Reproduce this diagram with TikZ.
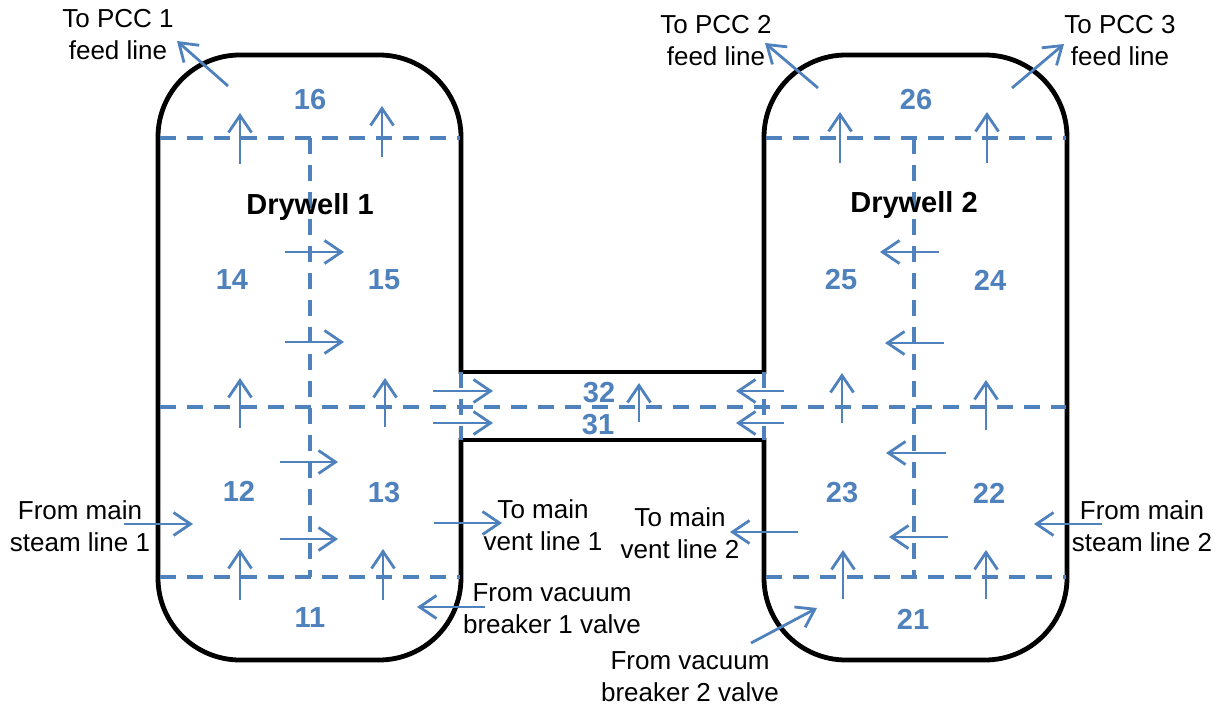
\documentclass[tikz,border=0pt]{standalone}
\usepackage{fontspec}
\setmainfont{Liberation Sans}
\usetikzlibrary{arrows.meta}
\definecolor{bl}{RGB}{79,129,189}
\begin{document}
\begin{tikzpicture}[x=0.5pt,y=-0.5pt,
 wall/.style={line width=2.4pt,black},
 dsh/.style={bl,line width=1.7pt,dash pattern=on 8pt off 5.5pt},
 flow/.style={bl,line width=1.4pt,-{Straight Barb[length=8.5pt,width=11.5pt,line width=1.4pt]}},
 num/.style={text=bl,font=\fontsize{14.5}{16}\selectfont\bfseries,inner sep=0pt},
 lbl/.style={align=center,font=\fontsize{13}{16}\selectfont,inner sep=0pt},
 ttl/.style={font=\fontsize{14.5}{16}\selectfont\bfseries,inner sep=0pt}]
\useasboundingbox (0,0) rectangle (1220,706);
% walls
\draw[wall,rounded corners=41pt] (158,55) rectangle (461,660);
\draw[wall,rounded corners=41pt] (764,55) rectangle (1067,660);
\fill[white] (455,374) rectangle (770,438);
\draw[wall] (459,372) -- (766,372);
\draw[wall] (459,440) -- (766,440);
% dashed boundaries
\draw[dsh] (160,138) -- (460,138);
\draw[dsh] (310,138) -- (310,577);
\draw[dsh] (160,577) -- (460,577);
\draw[dsh] (160,407) -- (1066,407);
\draw[dsh] (461,372) -- (461,440);
\draw[dsh] (764,372) -- (764,440);
\draw[dsh] (766,138) -- (1066,138);
\draw[dsh] (914,138) -- (914,577);
\draw[dsh] (766,577) -- (1066,577);
% numbers
\node[num] (n16) at (310,100) {16};
\node[num] (n14) at (232,280) {14};
\node[num] (n15) at (384,280) {15};
\node[num] (n12) at (239,491) {12};
\node[num] (n13) at (384,493) {13};
\node[num] (n11) at (310,618) {11};
\node[num] (n32) at (599,393) {32};
\node[num] (n31) at (598,425) {31};
\node[num] (n26) at (916,100) {26};
\node[num] (n25) at (841,280) {25};
\node[num] (n24) at (990,280) {24};
\node[num] (n23) at (842,493) {23};
\node[num] (n22) at (989,493) {22};
\node[num] (n21) at (913,619) {21};
\node[ttl] (d1) at (310,207) {Drywell 1};
\node[ttl] (d2) at (914,205) {Drywell 2};
% labels
\node[lbl] (pcc1) at (118,35) {To PCC 1\\feed line};
\node[lbl] (pcc2) at (716,41) {To PCC 2\\feed line};
\node[lbl] (pcc3) at (1120,41) {To PCC 3\\feed line};
\node[lbl] (msl1) at (80,526) {From main\\steam line 1};
\node[lbl] (mvl1) at (543,525) {To main\\vent line 1};
\node[lbl] (vb1) at (552,609) {From vacuum\\breaker 1 valve};
\node[lbl] (mvl2) at (680,533) {To main\\vent line 2};
\node[lbl] (msl2) at (1142,526) {From main\\steam line 2};
\node[lbl] (vb2) at (690,677) {From vacuum\\breaker 2 valve};
% flow arrows drywell 1
\draw[flow] (228,86) -- (177,41);
\draw[flow] (240,164) -- (240,113);
\draw[flow] (382,157) -- (382,106);
\draw[flow] (285,252) -- (344,252);
\draw[flow] (285,342) -- (344,342);
\draw[flow] (240,428) -- (240,378);
\draw[flow] (385,427) -- (385,378);
\draw[flow] (280,462) -- (338,462);
\draw[flow] (280,539) -- (338,539);
\draw[flow] (240,600) -- (240,549);
\draw[flow] (383,600) -- (383,549);
\draw[flow] (124,524) -- (193,524);
\draw[flow] (434,523) -- (502,523);
\draw[flow] (485,607) -- (417,607);
% connector
\draw[flow] (433,391) -- (493,391);
\draw[flow] (433,423) -- (493,423);
\draw[flow] (639,422) -- (639,383);
\draw[flow] (784,391) -- (736,391);
\draw[flow] (784,423) -- (736,423);
% flow arrows drywell 2
\draw[flow] (818,88) -- (765,43);
\draw[flow] (1012,88) -- (1064,44);
\draw[flow] (840,163) -- (840,112);
\draw[flow] (987,163) -- (987,112);
\draw[flow] (939,252) -- (880,252);
\draw[flow] (944,343) -- (885,343);
\draw[flow] (842,423) -- (842,373);
\draw[flow] (986,430) -- (986,380);
\draw[flow] (946,453) -- (886,453);
\draw[flow] (948,537) -- (889,537);
\draw[flow] (843,599) -- (843,550);
\draw[flow] (986,599) -- (986,550);
\draw[flow] (798,532) -- (730,532);
\draw[flow] (1102,524) -- (1034,524);
\draw[flow] (751,643) -- (817,608);
\end{tikzpicture}
\end{document}
